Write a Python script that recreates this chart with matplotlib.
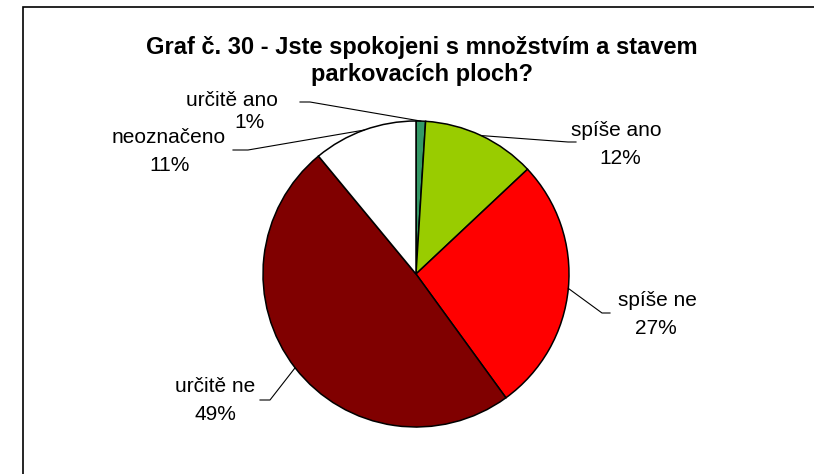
import numpy as np
import matplotlib.pyplot as plt
import matplotlib.patches as patches

# data
categories = ["určitě ano", "spíše ano", "spíše ne", "určitě ne", "neoznačeno"]
percents = [1, 12, 27, 49, 11]
colors = ["#339966", "#99CC00", "#FF0000", "#800000", "#FFFFFF"]
title = "Graf č. 30 - Jste spokojeni s množstvím a stavem\nparkovacích ploch?"

W, H = 814, 474
plt.rcParams['font.family'] = ['Liberation Sans', 'DejaVu Sans']

fig = plt.figure(figsize=(W / 100, H / 100), dpi=100)
ax = fig.add_axes([0, 0, 1, 1])


def py(y):
    # pixel row (from top) -> data y
    return H - y


cx, cy, r = 416, py(274), 153
wedges, _ = ax.pie(percents, colors=colors, center=(cx, cy), radius=r,
                   startangle=90, counterclock=False, frame=True,
                   wedgeprops=dict(edgecolor='black', linewidth=1.1))
ax.set_xlim(0, W)
ax.set_ylim(0, H)
ax.set_aspect('equal')
ax.axis('off')

# label placement: (name x, name y, value x, value y, leader start x, y, elbow x)
label_pos = [
    (232, 100, 249, 122, 300, 102, 310),
    (616, 130, 620, 158, 576, 142, 568),
    (657, 300, 656, 329, 610, 313, 602),
    (215, 387, 215, 415, 260, 400, 270),
    (169, 137, 170, 165, 233, 150, 248),
]

for w, cat, p, (tx, ty, vx, vy, lx, ly, ex) in zip(wedges, categories, percents, label_pos):
    mid = np.deg2rad((w.theta1 + w.theta2) / 2)
    px_ = cx + r * np.cos(mid)
    py_ = cy + r * np.sin(mid)
    ax.text(tx, py(ty), cat, ha='center', va='center', fontsize=15)
    ax.text(vx, py(vy), f"{p}%", ha='center', va='center', fontsize=15)
    ax.plot([lx, ex, px_], [py(ly), py(ly), py_], color='black', lw=0.8,
            solid_joinstyle='miter')

fig.text(422 / W, 1 - 61 / H, title, ha='center', va='center',
         fontsize=17, fontweight='bold', linespacing=1.25)

# outer frame (right and bottom edges fall outside the image)
fig.patches.append(patches.Rectangle((23 / W, -0.1), 1.2, 1.1 - 7 / H,
                                     transform=fig.transFigure, fill=False,
                                     edgecolor='black', linewidth=1.2))

fig.savefig("out.png", dpi=100)
